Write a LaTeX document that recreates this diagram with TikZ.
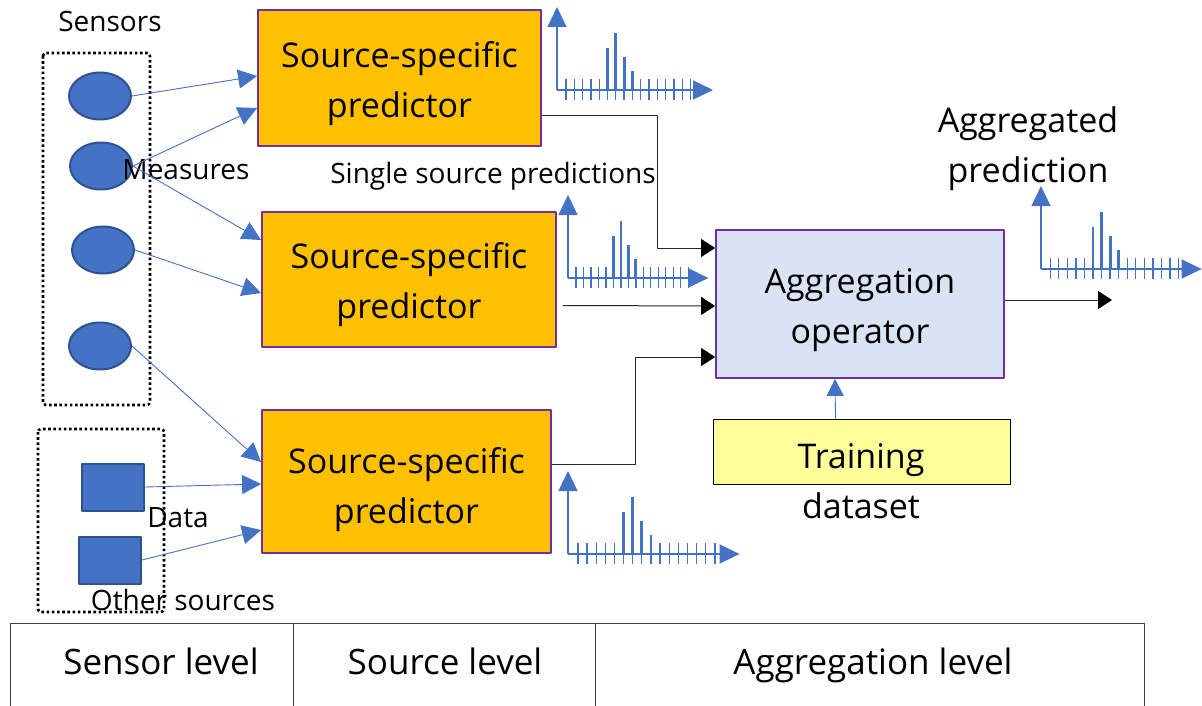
\documentclass[tikz,border=0pt]{standalone}
\usepackage{fontspec}
\setmainfont{Open Sans}
\usetikzlibrary{shapes.geometric,arrows.meta}
\definecolor{boxorange}{HTML}{FFC000}
\definecolor{boxpurple}{HTML}{7030A0}
\definecolor{agglight}{HTML}{DAE3F3}
\definecolor{sensblue}{HTML}{4472C4}
\definecolor{sensdark}{HTML}{2F528F}
\definecolor{trainyel}{HTML}{FFFF99}
\definecolor{tabgray}{HTML}{404040}
% small spike histogram: origin x, origin y, x scale
\newcommand{\hist}[3]{%
	\begin{scope}[shift={(#1,#2)},xscale=#3]
	\draw[histax] (0,0) -- (0,-83);
	\draw[histax] (0,0) -- (156,0);
	\foreach \i in {0,...,15} \draw[histtick] (9+8.3*\i,-11) -- (9+8.3*\i,10);
	\foreach \i/\h in {5/42,6/57,7/33,8/19} \draw[histbar] (9+8.3*\i,0) -- (9+8.3*\i,-\h);
	\end{scope}}
\newcommand{\twolines}[3]{\raisebox{#1}[0pt][0pt]{\begin{tabular}{@{}c@{}}#2\\#3\end{tabular}}}
\begin{document}
\begin{tikzpicture}[x=1pt, y=-1pt, line join=round,
	big/.style={font=\fontsize{34}{50}\selectfont, align=center},
	small/.style={font=\fontsize{28}{34}\selectfont},
	tabtext/.style={font=\fontsize{35}{50}\selectfont, text height=30pt, text depth=5pt},
	pred/.style={draw=boxpurple, line width=1.8pt, fill=boxorange, inner sep=0pt, big},
	sensor/.style={ellipse, draw=sensdark, line width=2pt, fill=sensblue, minimum width=62pt, minimum height=47pt, inner sep=0pt},
	datasrc/.style={rectangle, draw=sensdark, line width=2pt, fill=sensblue, minimum width=62pt, minimum height=47pt, inner sep=0pt},
	group/.style={draw, line width=2.6pt, dash pattern=on 2.6pt off 2.6pt, rounded corners=3pt},
	feed/.style={draw=sensblue, line width=0.9pt, -{Triangle[length=19pt,width=19pt]}},
	blk/.style={draw=black!85, line width=1pt, -{Triangle[length=14pt,width=18pt,color=black]}},
	histax/.style={draw=sensblue, line width=1.2pt, -{Triangle[length=20pt,width=19pt]}},
	histtick/.style={draw=sensblue, line width=1.3pt},
	histbar/.style={draw=sensblue, line width=2.8pt},
	tab/.style={draw=tabgray, line width=1pt},
	]
	\useasboundingbox (0,0) rectangle (1202,706);
	% sensor level
	\draw[group] (43,53) rectangle (150,405);
	\draw[group] (38,429) rectangle (164,612);
	\node[small] (lsens) at (110,22) {Sensors};
	\node[sensor] (s1) at (100,96) {};
	\node[sensor] (s2) at (101,166) {};
	\node[sensor] (s3) at (103,250) {};
	\node[sensor] (s4) at (100,346) {};
	\node[datasrc] (d1) at (113,487) {};
	\node[datasrc] (d2) at (110,560) {};
	\node[small] (lmeas) at (186,170) {Measures};
	\node[small] (ldata) at (178,518) {Data};
	\node[small] (lother) at (183,600) {Other sources};
	% source level
	\node[pred, minimum width=283pt, minimum height=136pt] (p1) at (399.5,78) {\twolines{-10.5pt}{Source-specific}{predictor}};
	\node[pred, minimum width=294pt, minimum height=135pt] (p2) at (409,279.5) {\twolines{-10.5pt}{Source-specific}{predictor}};
	\node[pred, minimum width=289pt, minimum height=143pt] (p3) at (406.5,481.5) {\twolines{-13pt}{Source-specific}{predictor}};
	\node[small] (lsingle) at (493,176) {Single source predictions};
	\draw[feed] (s1.east) -- ([yshift=2pt]p1.west);
	\draw[feed] (s2.east) -- ([yshift=-30pt]p1.west);
	\draw[feed] (s2.east) -- ([yshift=39.5pt]p2.west);
	\draw[feed] (s3.east) -- ([yshift=-13.5pt]p2.west);
	\draw[feed] (s4.east) -- ([yshift=19.5pt]p3.west);
	\draw[feed] (d1.east) -- ([yshift=-2.5pt]p3.west);
	\draw[feed] (d2.east) -- ([yshift=-48.5pt]p3.west);
	\hist{557}{90}{1}
	\hist{568}{278}{0.9}
	\hist{568}{554}{1.1}
	% aggregation level
	\node[draw=boxpurple, line width=1.8pt, fill=agglight, minimum width=288pt, minimum height=148pt, big] (agg) at (860,304) {\twolines{-11pt}{Aggregation}{operator}};
	\node[draw=black, line width=1pt, fill=trainyel, minimum width=297pt, minimum height=65pt] (train) at (861.5,451.5) {};
	\node[big] (ltrain) at (861,481) {Training\\dataset};
	\node[big] (laggr) at (1028,149) {Aggregated\\prediction};
	\coordinate (aggout) at (1112,300);
	\draw[blk] ([yshift=-38pt]p1.east) -| (657,248) -- ([yshift=56pt]agg.west);
	\draw[blk] ([xshift=6pt,yshift=-26pt]p2.east) -- ([yshift=-2pt]agg.west);
	\draw[blk] ([yshift=17.5pt]p3.east) -| (635,357) -- ([yshift=-53pt]agg.west);
	\draw[blk] ([yshift=4pt]agg.east) -- (aggout);
	\draw[feed, -{Triangle[length=17pt,width=17pt]}] ([xshift=-26pt]train.north) -- ([xshift=-25pt]agg.south);
	\hist{1041}{269}{1.03}
	% levels table
	\draw[tab] (10,706) -- (10,623) -- (1144,623) -- (1144,706);
	\draw[tab] (293,623) -- (293,706) (595,623) -- (595,706);
	\node[tabtext] (tsensor) at (161,662) {Sensor level};
	\node[tabtext] (tsource) at (445,662) {Source level};
	\node[tabtext] (taggr) at (873,662) {Aggregation level};
\end{tikzpicture}
\end{document}
